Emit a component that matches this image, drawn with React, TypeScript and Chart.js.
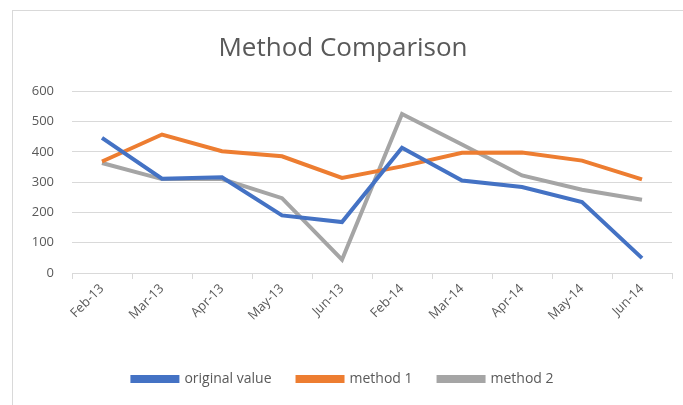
import React, { useEffect, useRef } from "react";
import { Chart, registerables } from "chart.js";

Chart.register(...registerables);

const categories = ["Feb-13", "Mar-13", "Apr-13", "May-13", "Jun-13", "Feb-14", "Mar-14", "Apr-14", "May-14", "Jun-14"];
const originalValue = [446, 311, 316, 190, 168, 413, 305, 284, 234, 49];
const method1 = [368, 457, 402, 385, 314, 352, 397, 398, 371, 309];
const method2 = [363, 310, 310, 247, 44, 525, 424, 322, 275, 242];
const yTicks = [0, 100, 200, 300, 400, 500, 600];

const FONT = "'Open Sans', 'Noto Sans', sans-serif";
const TEXT = "#595959";
const GRID = "#d9d9d9";

export default function App() {
  const ref = useRef<HTMLCanvasElement>(null);
  useEffect(() => {
    if (!ref.current) return;
    const chart = new Chart(ref.current, {
      type: "line",
      data: {
        labels: categories,
        datasets: [
          { label: "original value", data: originalValue, borderColor: "#4472C4", backgroundColor: "#4472C4", borderWidth: 4, pointRadius: 0, tension: 0 },
          { label: "method 1", data: method1, borderColor: "#ED7D31", backgroundColor: "#ED7D31", borderWidth: 4, pointRadius: 0, tension: 0 },
          { label: "method 2", data: method2, borderColor: "#A5A5A5", backgroundColor: "#A5A5A5", borderWidth: 4, pointRadius: 0, tension: 0 },
        ],
      },
      options: {
        animation: false,
        responsive: false,
        maintainAspectRatio: false,
        layout: { padding: { left: 14, right: 11, top: 10, bottom: 9 } },
        plugins: {
          title: {
            display: true,
            text: "Method Comparison",
            color: TEXT,
            font: { family: FONT, size: 26, weight: "normal" },
            padding: { top: 23, bottom: 27 },
          },
          legend: {
            position: "bottom",
            labels: {
              boxWidth: 45,
              boxHeight: 4,
              padding: 26,
              color: TEXT,
              font: { family: FONT, size: 14 },
            },
          },
          tooltip: { enabled: false },
        },
        scales: {
          x: {
            offset: true,
            grid: { display: true, drawOnChartArea: false, offset: true, tickLength: 6, color: GRID },
            border: { display: true, color: GRID },
            ticks: { maxRotation: 45, minRotation: 45, color: TEXT, font: { family: FONT, size: 13 }, padding: 2 },
            afterFit: (s: any) => { s.height = 73; },
          },
          y: {
            min: 0,
            max: 600,
            afterBuildTicks: (s: any) => { s.ticks = yTicks.map((v) => ({ value: v })); },
            ticks: { color: TEXT, font: { family: FONT, size: 13 }, padding: 18 },
            grid: { color: GRID, drawTicks: false },
            border: { display: false },
            afterFit: (s: any) => { s.width = 58; },
          },
        },
      },
    });
    return () => chart.destroy();
  }, []);
  return (
    <div style={{ position: "fixed", left: 0, top: 0, width: 683, height: 405, background: "#fff", overflow: "hidden" }}>
      <div style={{ position: "absolute", left: 12, top: 10, width: 700, height: 420, border: "1px solid #d9d9d9", boxSizing: "border-box" }} />
      <canvas ref={ref} width={683} height={405} style={{ position: "absolute", left: 0, top: 0, width: 683, height: 405 }} />
    </div>
  );
}
